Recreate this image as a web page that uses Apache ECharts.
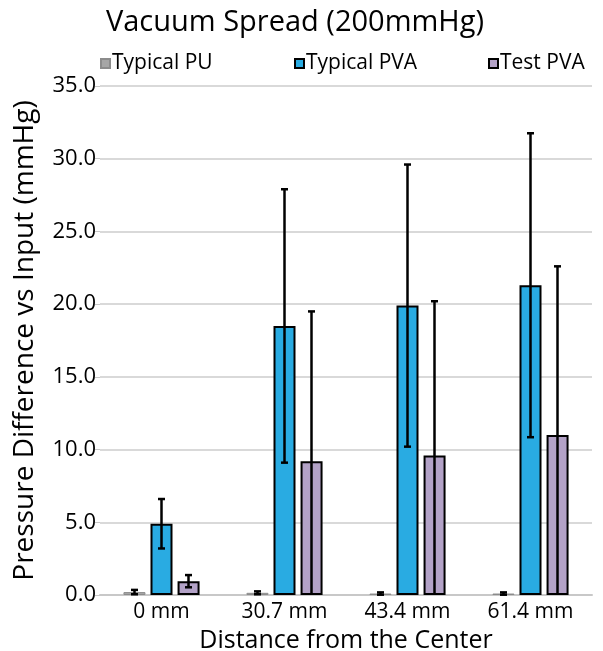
<!DOCTYPE html>
<html>
<head>
<meta charset="utf-8">
<script src="https://cdn.jsdelivr.net/npm/echarts@6/dist/echarts.min.js"></script>
<style>
  html, body { margin: 0; padding: 0; background: #fff; }
  #chart { width: 603px; height: 651px; }
</style>
</head>
<body>
<div id="chart"></div>
<script>
var categories = ['0 mm', '30.7 mm', '43.4 mm', '61.4 mm'];
var seriesNames = ['Typical PU', 'Typical PVA', 'Test PVA'];
var puValues = [0.2, 0.15, 0.1, 0.1];
var puErrors = [0.15, 0.1, 0.08, 0.08];
var pvaValues = [4.9, 18.5, 19.9, 21.3];
var pvaErrors = [1.7, 9.4, 9.7, 10.45];
var testValues = [0.95, 9.2, 9.6, 11.0];
var testErrors = [0.42, 10.3, 10.6, 11.6];
var yTicks = { min: 0, max: 35, interval: 5 };

var colors = ['#a6a6a6', '#29abe2', '#b3a2c7'];
var borders = ['#8c8c8c', '#000000', '#000000'];
var fontFamily = '"Open Sans", "Noto Sans", sans-serif';
var barW = 22;
var barStep = 27;

function errData(values, errs) {
  return values.map(function (v, i) {
    return [i, v - errs[i], v + errs[i]];
  });
}

function errSeries(values, errs, offset) {
  return {
    type: 'custom',
    silent: true,
    z: 10,
    data: errData(values, errs),
    renderItem: function (params, api) {
      var x = api.value(0);
      var lo = api.value(1);
      var hi = api.value(2);
      var top = api.coord([x, hi]);
      var bot = api.coord([x, Math.max(lo, 0)]);
      var cx = top[0] + offset;
      var st = { stroke: '#000', lineWidth: 2.5 };
      var kids = [
        { type: 'line', shape: { x1: cx, y1: top[1], x2: cx, y2: bot[1] }, style: st },
        { type: 'line', shape: { x1: cx - 3.5, y1: top[1], x2: cx + 3.5, y2: top[1] }, style: st }
      ];
      if (lo >= 0) {
        kids.push({ type: 'line', shape: { x1: cx - 3.5, y1: bot[1], x2: cx + 3.5, y2: bot[1] }, style: st });
      }
      return { type: 'group', children: kids };
    }
  };
}

function barSeries(name, values, idx) {
  return {
    name: name,
    type: 'bar',
    data: values,
    barWidth: barW,
    barGap: '23%',
    itemStyle: {
      color: colors[idx],
      borderColor: borders[idx],
      borderWidth: idx === 0 ? 1 : 2
    }
  };
}

function legendAt(left, name) {
  return {
    left: left,
    top: 53,
    data: [name],
    icon: 'rect',
    itemWidth: 9,
    itemHeight: 9,
    itemGap: 0,
    padding: 0,
    selectedMode: false,
    textStyle: { fontSize: 21, color: '#000', fontFamily: fontFamily, padding: [0, 0, 0, -3] }
  };
}

var chart = echarts.init(document.getElementById('chart'));
chart.setOption({
  animation: false,
  color: colors,
  title: {
    text: 'Vacuum Spread (200mmHg)',
    left: 290,
    textAlign: 'center',
    top: 3,
    textStyle: { fontSize: 29, fontWeight: 'normal', color: '#000', fontFamily: fontFamily }
  },
  legend: [
    legendAt(100, seriesNames[0]),
    legendAt(294, seriesNames[1]),
    legendAt(488, seriesNames[2])
  ],
  grid: { left: 100, right: 11, top: 86, bottom: 56, outerBoundsMode: 'none', containLabel: false },
  xAxis: {
    type: 'category',
    data: categories,
    name: 'Distance from the Center',
    nameLocation: 'middle',
    nameGap: 30,
    nameTextStyle: { fontSize: 25, color: '#000', fontFamily: fontFamily },
    axisLine: { lineStyle: { color: '#c8c8c8', width: 2 } },
    axisTick: { show: false },
    axisLabel: { fontSize: 21, color: '#000', fontFamily: fontFamily, margin: 7 }
  },
  yAxis: {
    type: 'value',
    min: yTicks.min,
    max: yTicks.max,
    interval: yTicks.interval,
    name: 'Pressure Difference vs Input (mmHg)',
    nameLocation: 'middle',
    nameGap: 61,
    nameTextStyle: { fontSize: 28, color: '#000', fontFamily: fontFamily },
    axisLine: { show: false },
    axisTick: { show: true, length: 5, lineStyle: { color: '#c8c8c8', width: 1 } },
    axisLabel: {
      fontSize: 22, color: '#000', fontFamily: fontFamily, margin: 4,
      formatter: function (v) { return v.toFixed(1); }
    },
    splitLine: { lineStyle: { color: '#d9d9d9', width: 2 } }
  },
  series: [
    barSeries(seriesNames[0], puValues, 0),
    barSeries(seriesNames[1], pvaValues, 1),
    barSeries(seriesNames[2], testValues, 2),
    errSeries(puValues, puErrors, -barStep),
    errSeries(pvaValues, pvaErrors, 0),
    errSeries(testValues, testErrors, barStep)
  ]
});
</script>
</body>
</html>
